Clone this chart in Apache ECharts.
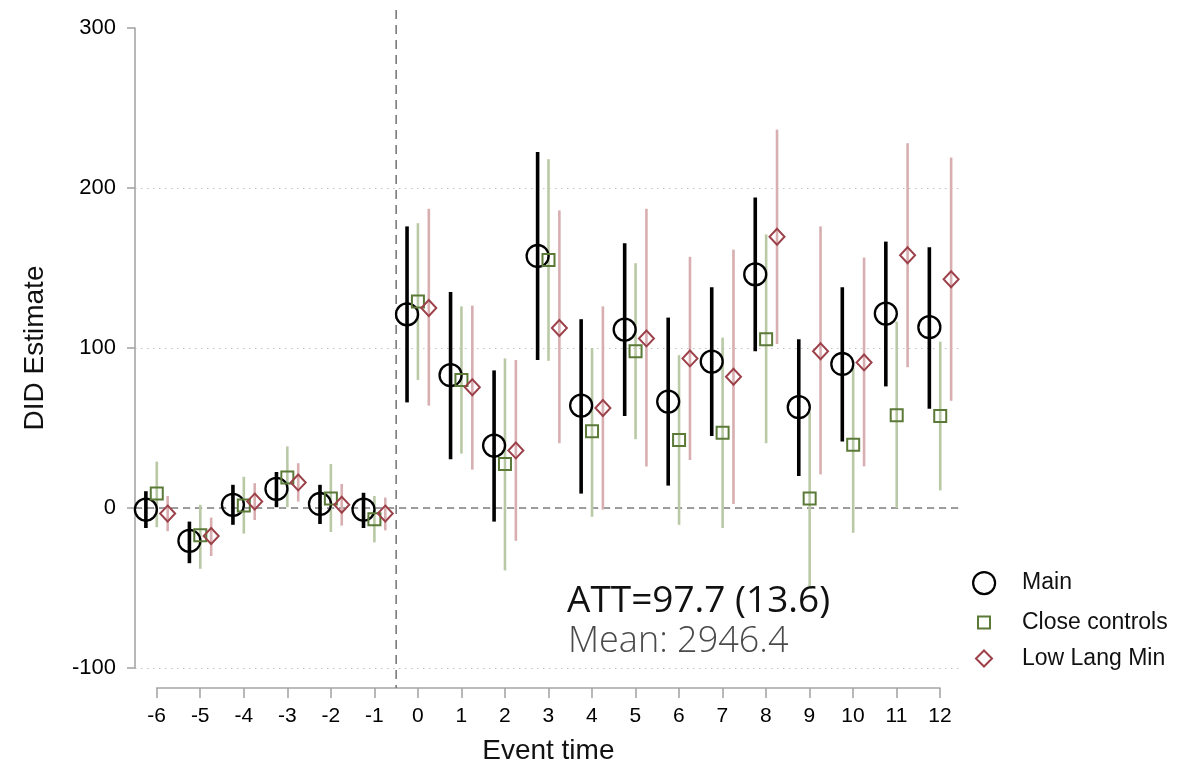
<!DOCTYPE html>
<html>
<head>
<meta charset="utf-8">
<script src="https://cdn.jsdelivr.net/npm/echarts@6/dist/echarts.min.js"></script>
<style>
  html, body { margin: 0; padding: 0; background: #fff; }
  #chart { width: 1197px; height: 769px; }
</style>
</head>
<body>
<div id="chart"></div>
<script>
// ---------------- data ----------------
const events = [-6, -5, -4, -3, -2, -1, 0, 1, 2, 3, 4, 5, 6, 7, 8, 9, 10, 11, 12];
const yTicks = [-100, 0, 100, 200, 300];

const mainEst = [-1, -20.5, 2, 12, 2.5, -1, 121, 83, 39, 157.5, 64, 111.5, 66.5, 91.5, 146, 63, 90, 121.5, 113];
const mainLo  = [-12.5, -34.5, -10.5, 0.5, -10, -12.5, 66, 30.5, -8.5, 92.5, 9, 57.5, 14, 45, 98, 20, 41.5, 76, 62];
const mainHi  = [10.5, -8.5, 14.5, 22.5, 14.5, 9.5, 176, 135, 86, 222.5, 118, 165.5, 119, 138, 194, 105.5, 138, 166.5, 163];

const closeEst = [9, -17, 1.5, 19, 6, -7, 129, 80, 27.5, 155, 48, 98, 42.5, 47, 105.5, 6, 39.5, 58, 57.5];
const closeLo  = [-12, -38, -16, 0.5, -15, -21.5, 80, 34, -39, 92, -5.5, 43, -10.5, -12.5, 40.5, -50, -15.5, 0, 11];
const closeHi  = [29, 2, 19.5, 38.5, 27.5, 7.5, 178, 126, 93.5, 218, 100, 153, 95.5, 106.5, 171, 60, 88, 116.5, 104];

const lowEst = [-3.5, -17.5, 4, 16, 2, -3.5, 125, 75.5, 36, 112.5, 62.5, 106, 93.5, 82, 169.5, 98, 91, 158, 143];
const lowLo  = [-14.5, -30, -7.5, 4, -11, -14, 64, 24, -20.5, 40.5, -1, 26, 30, 2.5, 102.5, 21, 26, 88, 67];
const lowHi  = [7.5, -6, 15.5, 28, 15, 6.5, 187, 126.5, 92.5, 186, 126, 187, 157, 161.5, 236.5, 176, 156.5, 228, 219];

const treatmentStart = -0.5;
const attText = 'ATT=97.7 (13.6)';
const meanText = 'Mean: 2946.4';
// --------------------------------------

const FONT = 'Liberation Sans, Arial, sans-serif';
const TFONT = 'Open Sans, Lato, sans-serif';
const OFF = 0.25; // horizontal dodge between the three estimates

const C_MAIN = '#000000', C_MAIN_CI = '#000000';
const C_CLOSE = '#5b7a38', C_CLOSE_CI = '#b9c9a6';
const C_LOW = '#9c4049', C_LOW_CI = '#d8aeb1';

function ciSeries(name, lo, hi, offset, color, width) {
  return {
    type: 'custom', name: name, xAxisIndex: 0, yAxisIndex: 0, silent: true, z: 2,
    renderItem: function (params, api) {
      const x = api.value(0);
      const a = api.coord([x, api.value(1)]);
      const b = api.coord([x, api.value(2)]);
      return { type: 'line', shape: { x1: a[0], y1: a[1], x2: b[0], y2: b[1] },
               style: { stroke: color, lineWidth: width } };
    },
    encode: { x: 0, y: [1, 2] },
    data: events.map((e, i) => [e + offset, lo[i], hi[i]])
  };
}

function pointSeries(name, est, offset, symbol, size, color, bw, extra) {
  return Object.assign({
    type: 'scatter', name: name, xAxisIndex: 0, yAxisIndex: 0, silent: true, z: 5,
    symbol: symbol, symbolSize: size,
    itemStyle: { color: 'rgba(0,0,0,0)', borderColor: color, borderWidth: bw, opacity: 1 },
    data: events.map((e, i) => [e + offset, est[i]])
  }, extra || {});
}

const chart = echarts.init(document.getElementById('chart'), null, { renderer: 'canvas' });

const option = {
  animation: false,
  backgroundColor: '#ffffff',
  textStyle: { fontFamily: FONT },
  grid: [
    { left: 135, top: 28, width: 827, height: 640, containLabel: false, outerBoundsMode: 'none' },
    { left: 156.7, top: 687, width: 783.3, height: 1, containLabel: false, outerBoundsMode: 'none' }
  ],
  xAxis: [
    { type: 'value', gridIndex: 0, min: -6.5, max: 12.5, show: false },
    {
      type: 'value', gridIndex: 1, min: events[0], max: events[events.length - 1], interval: 1,
      position: 'bottom',
      axisLine: { show: true, onZero: false, lineStyle: { color: '#a6a6a6', width: 1.6 } },
      axisTick: { show: true, length: 10, lineStyle: { color: '#a6a6a6', width: 1.6 } },
      axisLabel: { show: true, margin: 18, fontSize: 21, color: '#000', fontFamily: FONT },
      splitLine: { show: false },
      name: 'Event time', nameLocation: 'middle', nameGap: 49,
      nameTextStyle: { fontSize: 28, color: '#111', fontFamily: FONT }
    }
  ],
  yAxis: [
    {
      type: 'value', gridIndex: 0, min: yTicks[0], max: yTicks[yTicks.length - 1], interval: 100,
      axisLine: { show: true, onZero: false, lineStyle: { color: '#a6a6a6', width: 1.6 } },
      axisTick: { show: true, length: 8, lineStyle: { color: '#a6a6a6', width: 1.6 } },
      axisLabel: { show: true, margin: 19, fontSize: 22, color: '#000', fontFamily: FONT },
      splitLine: { show: true, lineStyle: { type: [1.5, 4.5], width: 1.2,
        color: ['#c4c4c4', '#c4c4c4', '#c4c4c4', '#c4c4c4', 'rgba(0,0,0,0)'] } },
      name: 'DID Estimate', nameLocation: 'middle', nameGap: 86,
      nameTextStyle: { fontSize: 28, color: '#111', fontFamily: FONT }
    },
    { type: 'value', gridIndex: 1, min: 0, max: 1, show: false }
  ],
  title: [
    { text: attText, left: 567, top: 583, padding: 0,
      textStyle: { fontFamily: TFONT, fontSize: 37, fontWeight: 'normal', color: '#111' } },
    { text: meanText, left: 568, top: 624, padding: 0,
      textStyle: { fontFamily: TFONT, fontSize: 36, fontWeight: 300, color: '#4a4a4a' } }
  ],
  legend: [
    { orient: 'vertical', left: 972, top: 571, itemWidth: 22, itemHeight: 22, padding: 0,
      selectedMode: false,
      textStyle: { fontSize: 23, color: '#111', fontFamily: FONT, padding: [0, 0, 0, 22] },
      data: [{ name: 'Main', icon: 'circle',
               itemStyle: { color: 'rgba(0,0,0,0)', borderColor: C_MAIN, borderWidth: 2.2 } }] },
    { orient: 'vertical', left: 977, top: 611, itemWidth: 12, itemHeight: 12, padding: 0,
      selectedMode: false,
      textStyle: { fontSize: 23, color: '#111', fontFamily: FONT, padding: [0, 0, 0, 27] },
      data: [{ name: 'Close controls', icon: 'rect',
               itemStyle: { color: 'rgba(0,0,0,0)', borderColor: C_CLOSE, borderWidth: 2 } }] },
    { orient: 'vertical', left: 975, top: 647, itemWidth: 16, itemHeight: 16, padding: 0,
      selectedMode: false,
      textStyle: { fontSize: 23, color: '#111', fontFamily: FONT, padding: [0, 0, 0, 25] },
      data: [{ name: 'Low Lang Min', icon: 'diamond',
               itemStyle: { color: 'rgba(0,0,0,0)', borderColor: C_LOW, borderWidth: 2 } }] }
  ],
  series: [
    // vertical treatment line, extending past the plot region like the original
    {
      type: 'custom', name: 'treat', silent: true, clip: false, z: 1,
      xAxisIndex: 0, yAxisIndex: 0,
      renderItem: function (params, api) {
        const cs = params.coordSys;
        const x = api.coord([api.value(0), 0])[0];
        return { type: 'line', shape: { x1: x, y1: cs.y - 18, x2: x, y2: cs.y + cs.height + 20 },
                 style: { stroke: '#7a7a7a', lineWidth: 1.6, lineDash: [9, 6] } };
      },
      encode: { x: 0 },
      data: [[treatmentStart]]
    },
    ciSeries('Main CI', mainLo, mainHi, -OFF, C_MAIN_CI, 3.6),
    ciSeries('Close CI', closeLo, closeHi, 0, C_CLOSE_CI, 2.6),
    ciSeries('Low CI', lowLo, lowHi, OFF, C_LOW_CI, 2.6),
    pointSeries('Main', mainEst, -OFF, 'circle', 22, C_MAIN, 2.3, {
      markLine: {
        silent: true, symbol: 'none', label: { show: false }, z: 1,
        lineStyle: { color: '#7f7f7f', type: [7, 5], width: 1.6 },
        data: [{ yAxis: 0 }]
      }
    }),
    pointSeries('Close controls', closeEst, 0, 'rect', 12, C_CLOSE, 2),
    pointSeries('Low Lang Min', lowEst, OFF, 'diamond', [15, 16], C_LOW, 2)
  ]
};

chart.setOption(option);
</script>
</body>
</html>
